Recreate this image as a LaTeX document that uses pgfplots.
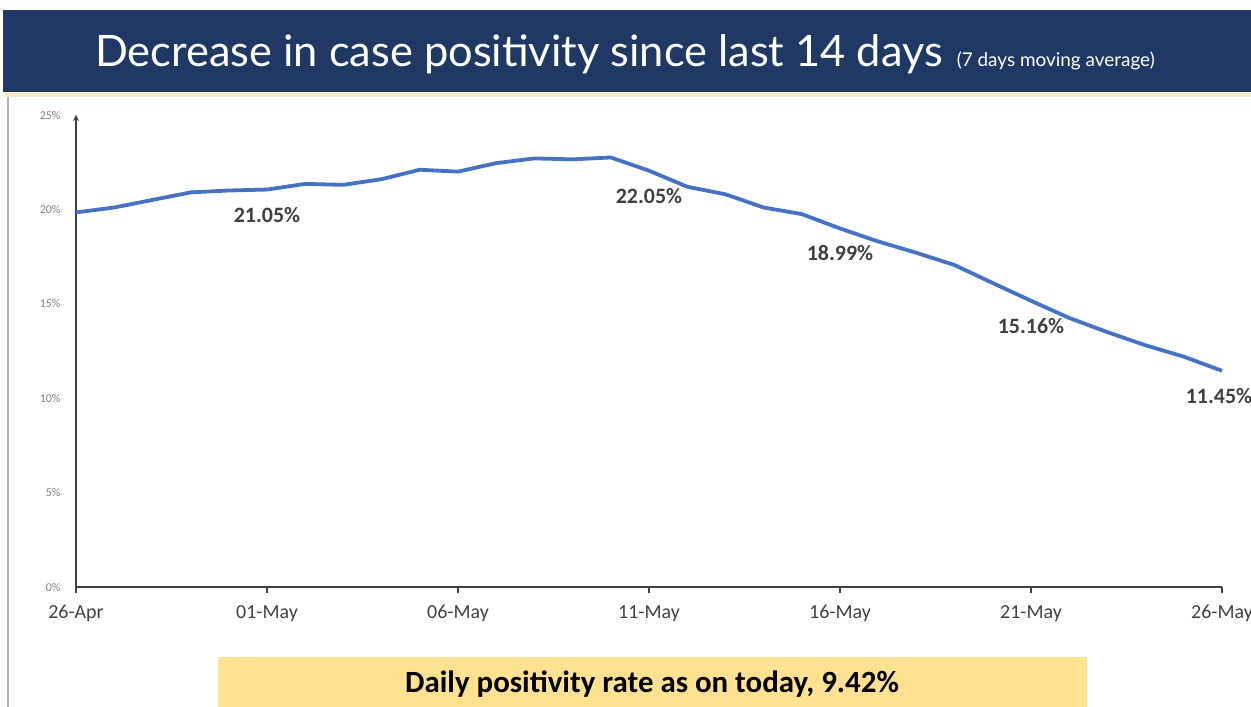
\documentclass[border=0pt]{standalone}
\usepackage{fontspec}
\setmainfont{Carlito}
\newfontfamily\titlefont{Lato}
\usepackage{pgfplots}
\pgfplotsset{compat=1.18}
\definecolor{navy}{RGB}{31,56,100}
\definecolor{cream}{RGB}{246,236,200}
\definecolor{lineblue}{RGB}{68,114,196}
\definecolor{boxyellow}{RGB}{255,226,145}
\definecolor{labelgray}{RGB}{64,64,64}
\definecolor{tickgray}{RGB}{128,128,128}
\pgfplotstableread{
day val
0 19.84
1 20.10
2 20.50
3 20.90
4 21.00
5 21.05
6 21.35
7 21.30
8 21.60
9 22.10
10 22.00
11 22.45
12 22.70
13 22.65
14 22.75
15 22.05
16 21.20
17 20.80
18 20.10
19 19.75
20 18.99
21 18.30
22 17.70
23 17.05
24 16.10
25 15.16
26 14.25
27 13.50
28 12.80
29 12.20
30 11.45
}\positivity
\begin{document}
\begin{tikzpicture}[x=1bp,y=1bp]
\useasboundingbox (0,0) rectangle (1251,707);
\clip (0,0) rectangle (1251,707);
\fill[white] (0,0) rectangle (1251,707);
% title banner
\fill[navy] (3,615) rectangle (1251,697);
\fill[cream] (3,610) rectangle (1251,615);
\draw[gray!60, line width=1.5bp] (8,0) -- (8,610);
\node[white, anchor=base west, inner sep=0] at (95,640)
  {\titlefont\fontsize{43.5}{50}\selectfont Decrease in case positivity since last 14 days\hspace{14bp}\fontsize{19}{22}\selectfont (7 days moving average)};
% bottom box
\fill[boxyellow] (218,0) rectangle (1087,50);
\node[black] at (652,23) {\bfseries\fontsize{31}{36}\selectfont Daily positivity rate as on today, 9.42\%};
\begin{axis}[
  at={(76bp,120bp)}, anchor=origin,
  scale only axis,
  width=1146bp, height=472bp,
  xmin=0, xmax=30, ymin=0, ymax=25,
  axis lines=left,
  axis line style={labelgray, line width=1.6bp},
  x axis line style={-},
  y axis line style={-stealth},
  xtick={0,5,10,15,20,25,30},
  xticklabels={26-Apr,01-May,06-May,11-May,16-May,21-May,26-May},
  ytick={0,5,10,15,20,25},
  yticklabels={0\%,5\%,10\%,15\%,20\%,25\%},
  tick align=outside,
  major tick length=6bp,
  xtick style={labelgray, line width=1.2bp},
  ytick style={draw=none},
  xticklabel style={font=\fontsize{20}{24}\selectfont, text=labelgray, yshift=-9bp},
  yticklabel style={font=\fontsize{12}{14}\selectfont, text=tickgray, xshift=-6bp},
  /pgf/number format/assume math mode=true,
  clip=false,
]
\addplot[color=lineblue, line width=3.8bp, line join=round] table[x=day, y=val] {\positivity};
\node[text=labelgray, font=\bfseries\fontsize{22}{26}\selectfont, yshift=-25bp] at (axis cs:5,21.05) {21.05\%};
\node[text=labelgray, font=\bfseries\fontsize{22}{26}\selectfont, yshift=-25bp] at (axis cs:15,22.05) {22.05\%};
\node[text=labelgray, font=\bfseries\fontsize{22}{26}\selectfont, yshift=-25bp] at (axis cs:20,18.99) {18.99\%};
\node[text=labelgray, font=\bfseries\fontsize{22}{26}\selectfont, yshift=-25bp] at (axis cs:25,15.16) {15.16\%};
\node[text=labelgray, font=\bfseries\fontsize{22}{26}\selectfont, yshift=-25bp, xshift=-3bp] at (axis cs:30,11.45) {11.45\%};
\end{axis}
\end{tikzpicture}
\end{document}
